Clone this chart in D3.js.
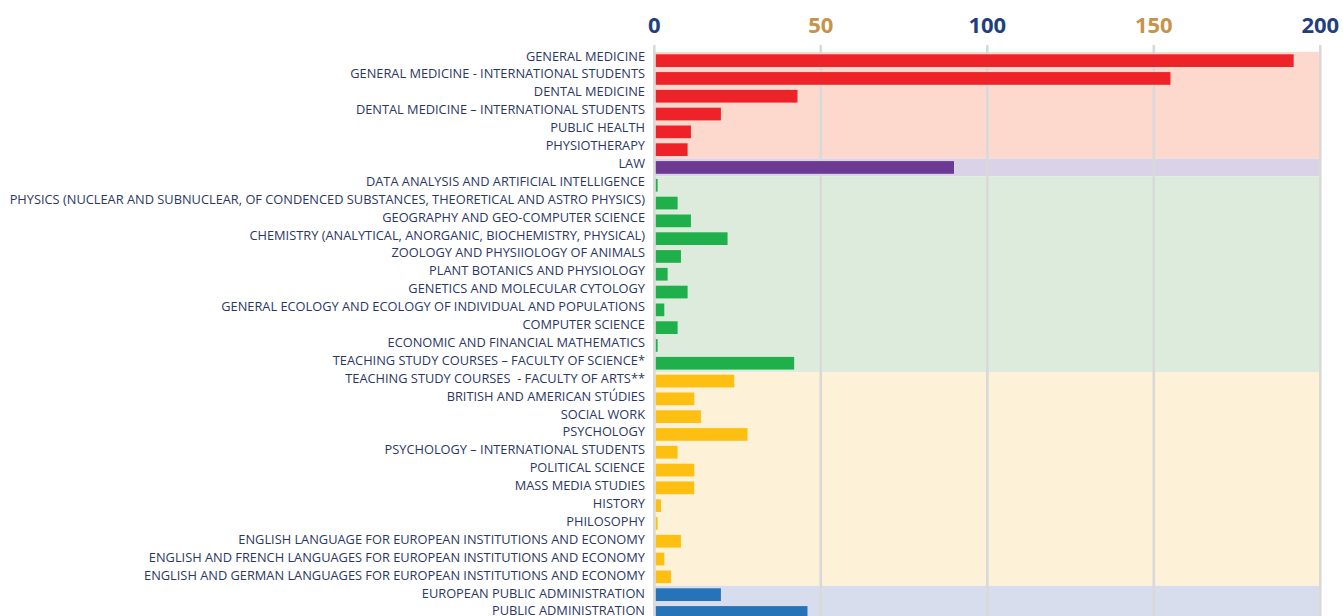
<!DOCTYPE html>
<html>
<head>
<meta charset="utf-8">
<script src="https://cdn.jsdelivr.net/npm/d3@7/dist/d3.min.js"></script>
<style>
  html, body { margin: 0; padding: 0; background: #ffffff; }
  svg { display: block; }
</style>
</head>
<body>
<svg id="chart" width="1343" height="616"></svg>
<script>
// ---------- DATA ----------
const categories = [
  "GENERAL MEDICINE",
  "GENERAL MEDICINE - INTERNATIONAL STUDENTS",
  "DENTAL MEDICINE",
  "DENTAL MEDICINE \u2013 INTERNATIONAL STUDENTS",
  "PUBLIC HEALTH",
  "PHYSIOTHERAPY",
  "LAW",
  "DATA ANALYSIS AND ARTIFICIAL INTELLIGENCE",
  "PHYSICS (NUCLEAR AND SUBNUCLEAR, OF CONDENCED SUBSTANCES, THEORETICAL AND ASTRO PHYSICS)",
  "GEOGRAPHY AND GEO-COMPUTER SCIENCE",
  "CHEMISTRY (ANALYTICAL, ANORGANIC, BIOCHEMISTRY, PHYSICAL)",
  "ZOOLOGY AND PHYSIIOLOGY OF ANIMALS",
  "PLANT BOTANICS AND PHYSIOLOGY",
  "GENETICS AND MOLECULAR CYTOLOGY",
  "GENERAL ECOLOGY AND ECOLOGY OF INDIVIDUAL AND POPULATIONS",
  "COMPUTER SCIENCE",
  "ECONOMIC AND FINANCIAL MATHEMATICS",
  "TEACHING STUDY COURSES \u2013 FACULTY OF SCIENCE*",
  "TEACHING STUDY COURSES  - FACULTY OF ARTS**",
  "BRITISH AND AMERICAN ST\u00DADIES",
  "SOCIAL WORK",
  "PSYCHOLOGY",
  "PSYCHOLOGY \u2013 INTERNATIONAL STUDENTS",
  "POLITICAL SCIENCE",
  "MASS MEDIA STUDIES",
  "HISTORY",
  "PHILOSOPHY",
  "ENGLISH LANGUAGE FOR EUROPEAN INSTITUTIONS AND ECONOMY",
  "ENGLISH AND FRENCH LANGUAGES FOR EUROPEAN INSTITUTIONS AND ECONOMY",
  "ENGLISH AND GERMAN LANGUAGES FOR EUROPEAN INSTITUTIONS AND ECONOMY",
  "EUROPEAN PUBLIC ADMINISTRATION",
  "PUBLIC ADMINISTRATION"
];
const values = [192, 155, 43, 20, 11, 10, 90, 1, 7, 11, 22, 8, 4, 10, 3, 7, 1, 42,
                24, 12, 14, 28, 7, 12, 12, 2, 1, 8, 3, 5, 20, 46];
const groups = ["medicine", "law", "science", "arts", "publicadmin"];
const groupOf = [0,0,0,0,0,0, 1, 2,2,2,2,2,2,2,2,2,2,2, 3,3,3,3,3,3,3,3,3,3,3,3, 4,4];
const barColors = ["#ee2229", "#6c3a93", "#20b04b", "#fcbf12", "#2673b8"];
const bandColors = ["#fcd9cc", "#dad3e8", "#dcebdb", "#fdf1d7", "#d7ddec"];
const tickValues = [0, 50, 100, 150, 200];
const tickColors = ["#1f3f7e", "#c8924a", "#1f3f7e", "#c8924a", "#1f3f7e"];

// ---------- LAYOUT ----------
const svg = d3.select("#chart");
const x = d3.scaleLinear().domain([0, 200]).range([654.3, 1320.3]);
const step = 17.8;
const yBar = d3.scaleBand().domain(categories).range([51.8, 51.8 + step * categories.length]).padding(0);
const yLabel = d3.scalePoint().domain(categories).range([60.5, 60.5 + 17.9 * (categories.length - 1)]);
const barInset = 2.5, barH = 12.7;

// ---------- GROUP BACKGROUND BANDS ----------
const bandData = groups.map((g, gi) => {
  const members = categories.filter((c, i) => groupOf[i] === gi);
  return { gi, y0: yBar(members[0]), y1: yBar(members[members.length - 1]) + yBar.bandwidth() };
});
svg.append("g").selectAll("rect").data(bandData).join("rect")
  .attr("x", x(0))
  .attr("y", d => d.y0)
  .attr("width", x(200) - x(0))
  .attr("height", d => d.y1 - d.y0)
  .attr("fill", d => bandColors[d.gi]);

// ---------- GRIDLINES ----------
svg.append("g").selectAll("line").data(tickValues).join("line")
  .attr("x1", d => x(d)).attr("x2", d => x(d))
  .attr("y1", 45).attr("y2", 616)
  .attr("stroke", "#d9d9d9").attr("stroke-width", 2.6);

// ---------- BARS ----------
svg.append("g").selectAll("rect").data(categories).join("rect")
  .attr("x", x(0) + 1.5)
  .attr("y", d => yBar(d) + barInset)
  .attr("width", (d, i) => Math.max(0, x(values[i]) - x(0) - 1.5))
  .attr("height", barH)
  .attr("fill", (d, i) => barColors[groupOf[i]]);

// ---------- TICK LABELS ----------
svg.append("g").selectAll("text").data(tickValues).join("text")
  .attr("x", d => x(d))
  .attr("y", 32.5)
  .attr("text-anchor", "middle")
  .attr("font-family", "'Open Sans', 'Noto Sans', sans-serif")
  .attr("font-weight", 700)
  .attr("font-size", "22px")
  .attr("fill", (d, i) => tickColors[i])
  .text(d => d);

// ---------- CATEGORY LABELS ----------
const labelRight = 645;
const lg = svg.append("g");
const labels = lg.selectAll("text").data(categories).join("text")
  .attr("text-anchor", "end")
  .attr("font-family", "'Open Sans', 'Noto Sans', sans-serif")
  .attr("font-size", "13.3px")
  .attr("fill", "#2b3763")
  .style("white-space", "pre")
  .attr("xml:space", "preserve")
  .text(d => d);
// condense horizontally so the longest label spans the same width as the reference
const longest = labels.filter((d, i) => i === 8).node().getComputedTextLength();
const k = Math.min(1, 636 / longest);
labels.attr("transform", d => `translate(${labelRight},${yLabel(d)}) scale(${k},1)`);
</script>
</body>
</html>
